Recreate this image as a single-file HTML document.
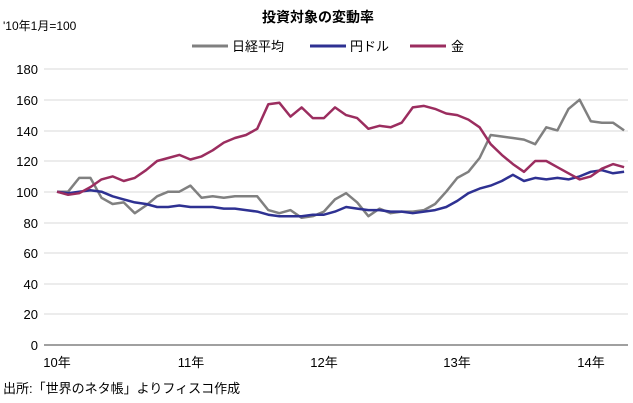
<!DOCTYPE html><html><head><meta charset="utf-8"><style>body{margin:0;background:#fff}svg{display:block;font-family:"Liberation Sans","Noto Sans CJK JP",sans-serif}</style></head><body>
<svg width="633" height="403" xmlns="http://www.w3.org/2000/svg">
<text x="318" y="22" text-anchor="middle" font-size="14" font-weight="bold">投資対象の変動率</text>
<text x="3" y="30" font-size="12">'10年1月=100</text>
<g font-size="13">
<line x1="192" y1="46" x2="228" y2="46" stroke="#808080" stroke-width="3"/><text x="232" y="51">日経平均</text>
<line x1="310" y1="46" x2="346" y2="46" stroke="#2e3192" stroke-width="3"/><text x="350" y="51">円ドル</text>
<line x1="410" y1="46" x2="446" y2="46" stroke="#9b2d5f" stroke-width="3"/><text x="451" y="51">金</text>
</g>
<g stroke="#d9d9d9" stroke-width="1">
<line x1="44" x2="628" y1="69" y2="69"/><line x1="44" x2="628" y1="100" y2="100"/><line x1="44" x2="628" y1="131" y2="131"/><line x1="44" x2="628" y1="161" y2="161"/><line x1="44" x2="628" y1="192" y2="192"/><line x1="44" x2="628" y1="223" y2="223"/><line x1="44" x2="628" y1="253" y2="253"/><line x1="44" x2="628" y1="284" y2="284"/><line x1="44" x2="628" y1="314" y2="314"/>
</g>
<g font-size="13" text-anchor="end">
<text x="38" y="74">180</text><text x="38" y="105">160</text><text x="38" y="136">140</text><text x="38" y="166">120</text><text x="38" y="197">100</text><text x="38" y="228">80</text><text x="38" y="258">60</text><text x="38" y="289">40</text><text x="38" y="319">20</text><text x="38" y="350">0</text>
</g>
<line x1="44" x2="628" y1="345" y2="345" stroke="#808080" stroke-width="1.5"/>
<g id="ticks" stroke="#808080"></g>
<g font-size="13" text-anchor="middle">
<text x="57" y="367">10年</text><text x="191" y="367">11年</text><text x="324" y="367">12年</text><text x="457" y="367">13年</text><text x="591" y="367">14年</text>
</g>
<text x="3" y="393" font-size="13">出所:「世界のネタ帳」よりフィスコ作成</text>
<polyline id="n" fill="none" stroke="#808080" stroke-width="2.5" stroke-linejoin="round"/>
<polyline id="y" fill="none" stroke="#2e3192" stroke-width="2.5" stroke-linejoin="round"/>
<polyline id="g" fill="none" stroke="#9b2d5f" stroke-width="2.5" stroke-linejoin="round"/>
<script>
function pts(a){return a.map((v,i)=>(57+i*11.12).toFixed(1)+","+(345-v*1.533).toFixed(1)).join(" ")}
var N=[100,100,109,109,96,92,93,86,91,97,100,100,104,96,97,96,97,97,97,88,86,88,83,84,87,95,99,93,84,89,86,87,87,88,92,100,109,113,122,137,136,135,134,131,142,140,154,160,146,145,145,140];
var Y=[100,99,100,101,100,97,95,93,92,90,90,91,90,90,90,89,89,88,87,85,84,84,84,85,85,87,90,89,88,88,87,87,86,87,88,90,94,99,102,104,107,111,107,109,108,109,108,110,113,114,112,113];
var G=[100,98,99,103,108,110,107,109,114,120,122,124,121,123,127,132,135,137,141,157,158,149,155,148,148,155,150,148,141,143,142,145,155,156,154,151,150,147,142,131,124,118,113,120,120,116,112,108,110,115,118,116];
document.getElementById('n').setAttribute('points',pts(N));
document.getElementById('y').setAttribute('points',pts(Y));
document.getElementById('g').setAttribute('points',pts(G));
var t='';for(var i=0;i<53;i++){var x=(51.4+i*11.12).toFixed(1);t+='<line x1="'+x+'" x2="'+x+'" y1="345" y2="350"/>';}
document.getElementById('ticks').innerHTML=t;
</script>
</svg></body></html>
